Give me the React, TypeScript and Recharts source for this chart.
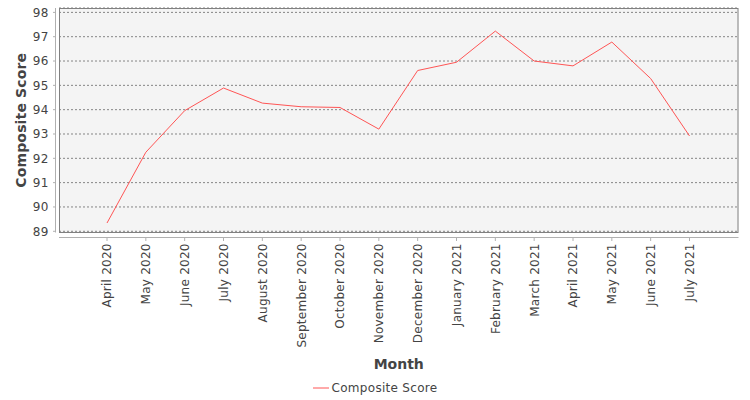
import React from 'react';
import { LineChart, Line, XAxis, YAxis, CartesianGrid, Legend, Customized } from 'recharts';

const months = [
  'April 2020', 'May 2020', 'June 2020', 'July 2020', 'August 2020', 'September 2020',
  'October 2020', 'November 2020', 'December 2020', 'January 2021', 'February 2021',
  'March 2021', 'April 2021', 'May 2021', 'June 2021', 'July 2021',
];
const compositeScore = [
  89.34, 92.25, 93.96, 94.89, 94.27, 94.12, 94.09, 93.2, 95.61, 95.95, 97.23, 96.0, 95.8, 96.78, 95.28, 92.92,
];
const yTicks = [89, 90, 91, 92, 93, 94, 95, 96, 97, 98];
const yDomain: [number, number] = [88.95, 98.18];

const data = months.map((m, i) => ({ month: m, score: compositeScore[i] }));

const FONT = '"DejaVu Sans", sans-serif';
const TEXT = '#444444';
const LINE = '#ff5555';

const W = 750;
const H = 400;
const PLOT_LEFT = 59;
const PLOT_TOP = 8;
const PLOT_RIGHT = 738.5;
const PLOT_BOTTOM = 232.5;

const YTick = (props: any) => {
  const { x, y, payload } = props;
  return (
    <g>
      <line x1={x + 4} y1={y} x2={x + 6.5} y2={y} stroke="#b0b0b0" strokeWidth={1} />
      <text x={x - 0.5} y={y + 4.4} textAnchor="end" fontSize={12} fill={TEXT} fontFamily={FONT} letterSpacing={0.2}>
        {payload.value}
      </text>
    </g>
  );
};

const XTick = (props: any) => {
  const { x, y, payload } = props;
  const tx = x + 4.5;
  const ty = y + 10.8;
  return (
    <g>
      <line x1={x} y1={y + 5} x2={x} y2={y + 8.5} stroke="#b0b0b0" strokeWidth={1} />
      <text
        x={tx}
        y={ty}
        transform={`rotate(-90, ${tx}, ${ty})`}
        textAnchor="end"
        fontSize={12}
        fill={TEXT}
        fontFamily={FONT}
        letterSpacing={0.25}
      >
        {payload.value}
      </text>
    </g>
  );
};

const YLabel = (props: any) => {
  const vb = props.viewBox || { x: 0, y: PLOT_TOP, width: PLOT_LEFT, height: PLOT_BOTTOM - PLOT_TOP };
  const lx = vb.x + 26;
  const ly = vb.y + vb.height / 2;
  return (
    <text
      x={lx}
      y={ly}
      transform={`rotate(-90, ${lx}, ${ly})`}
      textAnchor="middle"
      fontSize={14}
      fontWeight="bold"
      fill={TEXT}
      fontFamily={FONT}
      letterSpacing={0.15}
    >
      Composite Score
    </text>
  );
};

const XLabel = (props: any) => {
  const vb = props.viewBox || { x: PLOT_LEFT, y: PLOT_BOTTOM, width: PLOT_RIGHT - PLOT_LEFT, height: H - PLOT_BOTTOM };
  return (
    <text
      x={vb.x + vb.width / 2}
      y={vb.y + 136.5}
      textAnchor="middle"
      fontSize={14}
      fontWeight="bold"
      fill={TEXT}
      fontFamily={FONT}
    >
      Month
    </text>
  );
};

const Decor = () => (
  <g>
    <rect
      x={PLOT_LEFT + 0.5}
      y={PLOT_TOP + 0.5}
      width={PLOT_RIGHT - PLOT_LEFT - 1}
      height={PLOT_BOTTOM - PLOT_TOP - 0.5}
      fill="none"
      stroke="#808080"
      strokeWidth={1}
    />
    <line x1={55.5} y1={PLOT_TOP} x2={55.5} y2={PLOT_BOTTOM} stroke="#b0b0b0" strokeWidth={1} />
    <line x1={PLOT_LEFT} y1={237.5} x2={PLOT_RIGHT} y2={237.5} stroke="#b0b0b0" strokeWidth={1} />
  </g>
);

const LegendContent = () => (
  <div
    style={{
      display: 'flex',
      justifyContent: 'center',
      alignItems: 'center',
      height: 20,
      fontFamily: FONT,
      fontSize: 12,
      color: TEXT,
      letterSpacing: 0.3,
    }}
  >
    <svg width={16} height={2} style={{ display: 'block', marginRight: 3 }}>
      <line x1={0} y1={1} x2={16} y2={1} stroke={LINE} strokeWidth={1} />
    </svg>
    <span>Composite Score</span>
  </div>
);

export default function App() {
  return (
    <div style={{ position: 'absolute', left: 0, top: 0, fontFamily: FONT, background: '#fff' }}>
      <LineChart
        width={W}
        height={H}
        data={data}
        margin={{ top: PLOT_TOP, right: W - PLOT_RIGHT, left: 0, bottom: 0 }}
      >
        <CartesianGrid
          vertical={false}
          fill="#f4f4f4"
          fillOpacity={1}
          stroke="#858585"
          strokeDasharray="2 2"
          strokeWidth={1}
        />
        <Customized component={Decor} />
        <XAxis
          dataKey="month"
          interval={0}
          height={H - PLOT_BOTTOM}
          padding={{ left: 48, right: 49 }}
          axisLine={false}
          tickLine={false}
          tickSize={0}
          tickMargin={0}
          tick={<XTick />}
          label={XLabel}
        />
        <YAxis
          width={PLOT_LEFT}
          type="number"
          domain={yDomain}
          ticks={yTicks}
          interval={0}
          axisLine={false}
          tickLine={false}
          tickSize={0}
          tickMargin={10}
          tick={<YTick />}
          label={YLabel}
        />
        <Legend
          verticalAlign="middle"
          align="center"
          layout="horizontal"
          content={<LegendContent />}
          wrapperStyle={{ position: 'absolute', left: 0, top: 378, width: W, height: 20 }}
        />
        <Line
          type="linear"
          dataKey="score"
          stroke={LINE}
          strokeWidth={1}
          dot={false}
          activeDot={false}
          isAnimationActive={false}
        />
      </LineChart>
    </div>
  );
}
